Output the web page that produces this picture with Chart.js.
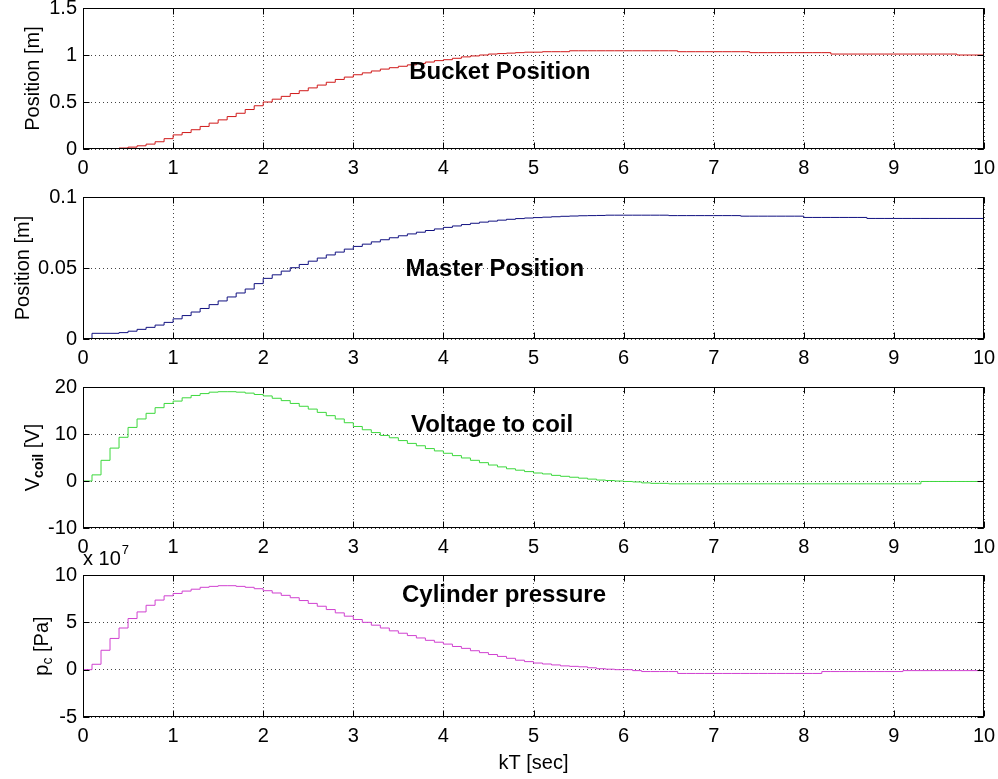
<!DOCTYPE html>
<html>
<head>
<meta charset="utf-8">
<script src="https://cdn.jsdelivr.net/npm/chart.js@4.4.0/dist/chart.umd.min.js"></script>
<style>
  html, body { margin: 0; padding: 0; background: #fff; }
  #wrap { position: relative; width: 998px; height: 779px; overflow: hidden; }
  canvas { position: absolute; left: 0; }
</style>
</head>
<body>
<div id="wrap">
  <canvas id="c1" width="998" height="198" style="top:-8px"></canvas>
  <canvas id="c2" width="998" height="198" style="top:181px"></canvas>
  <canvas id="c3" width="998" height="198" style="top:371px"></canvas>
  <canvas id="c4" width="998" height="244" style="top:535px"></canvas>
</div>
<script>
// sample instants kT, T = 0.1 s
const kT = [0,0.1,0.2,0.3,0.4,0.5,0.6,0.7,0.8,0.9,
  1,1.1,1.2,1.3,1.4,1.5,1.6,1.7,1.8,1.9,
  2,2.1,2.2,2.3,2.4,2.5,2.6,2.7,2.8,2.9,
  3,3.1,3.2,3.3,3.4,3.5,3.6,3.7,3.8,3.9,
  4,4.1,4.2,4.3,4.4,4.5,4.6,4.7,4.8,4.9,
  5,5.1,5.2,5.3,5.4,5.5,5.6,5.7,5.8,5.9,
  6,6.1,6.2,6.3,6.4,6.5,6.6,6.7,6.8,6.9,
  7,7.1,7.2,7.3,7.4,7.5,7.6,7.7,7.8,7.9,
  8,8.1,8.2,8.3,8.4,8.5,8.6,8.7,8.8,8.9,
  9,9.1,9.2,9.3,9.4,9.5,9.6,9.7,9.8,9.9,10];

// bucket position [m]
const bucketPos = [0,0,0,0.004,0.01,0.02,0.034,0.052,0.077,0.11,
  0.15,0.175,0.205,0.24,0.275,0.31,0.345,0.38,0.42,0.46,
  0.5,0.53,0.56,0.59,0.62,0.65,0.68,0.71,0.74,0.765,
  0.79,0.81,0.83,0.85,0.865,0.88,0.895,0.91,0.925,0.94,
  0.95,0.965,0.98,0.99,1.0,1.01,1.015,1.02,1.025,1.03,
  1.03,1.035,1.035,1.035,1.045,1.045,1.045,1.045,1.045,1.045,
  1.045,1.045,1.045,1.045,1.045,1.045,1.035,1.035,1.035,1.035,
  1.035,1.035,1.035,1.035,1.025,1.025,1.025,1.025,1.025,1.025,
  1.025,1.025,1.025,1.01,1.01,1.01,1.01,1.01,1.01,1.01,
  1.01,1.01,1.01,1.01,1.01,1.01,1.01,1.0,1.0,1.0,1.0];

// master position [m]
const masterPos = [0,0.004,0.004,0.004,0.0045,0.0055,0.0068,0.0082,0.0098,0.0117,
  0.0142,0.0165,0.019,0.0215,0.0242,0.0268,0.0296,0.0324,0.0352,0.039,
  0.0427,0.0452,0.0478,0.0502,0.0525,0.0548,0.057,0.0592,0.0612,0.0633,
  0.0652,0.0668,0.0684,0.0699,0.0713,0.0727,0.074,0.0752,0.0764,0.0775,
  0.0786,0.0796,0.0806,0.0815,0.0823,0.083,0.0837,0.0843,0.0848,0.0852,
  0.0855,0.0858,0.0861,0.0864,0.0866,0.0868,0.0869,0.087,0.0872,0.0872,
  0.0872,0.0872,0.0872,0.0872,0.0872,0.0869,0.0869,0.0869,0.0869,0.0869,
  0.0869,0.0869,0.0869,0.0865,0.0865,0.0865,0.0865,0.0865,0.0865,0.0865,
  0.0856,0.0856,0.0856,0.0856,0.0856,0.0856,0.0856,0.0849,0.0849,0.0849,
  0.0849,0.0849,0.0849,0.0849,0.0849,0.0849,0.0849,0.0849,0.0849,0.0849,0.0849];

// voltage to coil [V]
const vCoil = [0,1.3,4.4,7.0,9.3,11.4,13.2,14.4,15.6,16.5,
  17.0,17.7,18.2,18.6,18.9,19.0,19.0,18.9,18.7,18.4,
  18.1,17.6,17.1,16.5,15.9,15.3,14.6,13.9,13.2,12.4,
  11.6,10.9,10.3,9.7,9.2,8.6,8.0,7.5,6.9,6.4,
  5.9,5.4,4.9,4.4,3.9,3.4,3.0,2.6,2.3,2.0,
  1.7,1.5,1.2,1.0,0.8,0.6,0.4,0.2,0.1,0.0,
  -0.1,-0.2,-0.4,-0.5,-0.5,-0.6,-0.6,-0.6,-0.6,-0.6,
  -0.6,-0.6,-0.6,-0.6,-0.6,-0.6,-0.6,-0.6,-0.6,-0.6,
  -0.6,-0.6,-0.6,-0.6,-0.6,-0.6,-0.6,-0.6,-0.6,-0.6,
  -0.6,-0.6,-0.6,-0.1,-0.1,-0.1,-0.1,-0.1,-0.1,-0.1,-0.1];

// cylinder pressure [Pa], in units of 1e7
const pCyl = [0,0.57,2.05,3.3,4.4,5.4,6.1,6.8,7.35,7.8,
  8.05,8.3,8.5,8.7,8.8,8.87,8.87,8.8,8.7,8.55,
  8.34,8.1,7.85,7.6,7.3,7.0,6.7,6.35,6.0,5.65,
  5.3,5.0,4.7,4.4,4.1,3.85,3.6,3.35,3.1,2.9,
  2.7,2.45,2.25,2.0,1.8,1.6,1.4,1.2,1.0,0.85,
  0.7,0.6,0.5,0.4,0.35,0.3,0.2,0.1,0.05,0,
  0,-0.1,-0.2,-0.2,-0.2,-0.2,-0.4,-0.4,-0.4,-0.4,
  -0.4,-0.4,-0.4,-0.4,-0.4,-0.4,-0.4,-0.4,-0.4,-0.4,
  -0.4,-0.4,-0.2,-0.2,-0.2,-0.2,-0.2,-0.2,-0.2,-0.2,
  -0.2,-0.1,-0.1,-0.1,-0.1,-0.1,-0.1,-0.1,-0.1,-0.1,-0.1];

const FONT = '"Liberation Sans", Arial, sans-serif';
const fmt = v => String(Math.round(v * 1000) / 1000);

// draws box, inward ticks, in-plot label, y title and extras
const framePlugin = {
  id: 'frame',
  afterDraw(chart, args, o) {
    const { ctx, chartArea: a, scales: { x, y } } = chart;
    const L = Math.round(a.left) + 0.5, R = Math.round(a.right) - 0.5;
    const T = Math.round(a.top) + 0.5, B = Math.round(a.bottom) - 0.5;
    ctx.save();
    ctx.strokeStyle = '#000';
    ctx.lineWidth = 1;
    ctx.beginPath();
    x.ticks.forEach(t => {
      const px = Math.round(x.getPixelForValue(t.value)) + 0.5;
      ctx.moveTo(px, B); ctx.lineTo(px, B - 6);
      ctx.moveTo(px, T); ctx.lineTo(px, T + 6);
    });
    y.ticks.forEach(t => {
      const py = Math.round(y.getPixelForValue(t.value)) + 0.5;
      ctx.moveTo(L, py); ctx.lineTo(L + 6, py);
      ctx.moveTo(R, py); ctx.lineTo(R - 6, py);
    });
    ctx.stroke();
    ctx.strokeRect(L, T, R - L, B - T);

    // label inside the plot
    ctx.fillStyle = '#000';
    ctx.font = 'bold 24px ' + FONT;
    ctx.textAlign = 'left';
    ctx.textBaseline = 'middle';
    ctx.fillText(o.label, x.getPixelForValue(o.labelAt[0]), y.getPixelForValue(o.labelAt[1]));

    // rotated y-axis title made of runs (for subscripts)
    ctx.save();
    ctx.translate(o.titleX, (a.top + a.bottom) / 2);
    ctx.rotate(-Math.PI / 2);
    ctx.textBaseline = 'middle';
    let w = 0;
    o.yTitle.forEach(r => { ctx.font = r.font + ' ' + FONT; w += ctx.measureText(r.text).width; });
    let cx = -w / 2;
    o.yTitle.forEach(r => {
      ctx.font = r.font + ' ' + FONT;
      ctx.fillText(r.text, cx, r.dy || 0);
      cx += ctx.measureText(r.text).width;
    });
    ctx.restore();

    if (o.exponent) {
      ctx.font = '20px ' + FONT;
      ctx.textBaseline = 'alphabetic';
      ctx.fillText('x 10', a.left, a.top - 10);
      const w2 = ctx.measureText('x 10').width;
      ctx.font = '13px ' + FONT;
      ctx.fillText('7', a.left + w2 + 1, a.top - 21);
    }
    ctx.restore();
  }
};

function makeChart(id, values, color, yMin, yMax, yStep, padTop, xHeight, frame, xTitle) {
  return new Chart(document.getElementById(id), {
    type: 'line',
    data: {
      datasets: [{
        data: kT.map((t, i) => ({ x: t, y: values[i] })),
        borderColor: color,
        borderWidth: 1,
        pointRadius: 0,
        stepped: true,
        tension: 0
      }]
    },
    options: {
      responsive: false,
      animation: false,
      devicePixelRatio: 1,
      layout: { padding: { top: padTop, right: 14, left: 0, bottom: 0 } },
      plugins: { legend: { display: false }, tooltip: { enabled: false }, frame: frame },
      scales: {
        x: {
          type: 'linear', min: 0, max: 10,
          afterFit: s => { s.height = xHeight; s.paddingLeft = 0; s.paddingRight = 0; },
          ticks: { stepSize: 1, autoSkip: false, maxRotation: 0, padding: 7, color: '#000', font: { family: FONT, size: 20 }, callback: fmt },
          grid: { color: '#444', drawTicks: false },
          border: { display: false, dash: [1, 3] },
          title: xTitle ? { display: true, text: 'kT [sec]', color: '#000', font: { family: FONT, size: 20 }, padding: { top: 0 } } : { display: false }
        },
        y: {
          type: 'linear', min: yMin, max: yMax,
          afterFit: s => { s.width = 83; s.paddingTop = 0; s.paddingBottom = 0; },
          ticks: { stepSize: yStep, padding: 6, color: '#000', font: { family: FONT, size: 20 }, callback: fmt },
          grid: { color: '#444', drawTicks: false },
          border: { display: false, dash: [1, 3] }
        }
      }
    },
    plugins: [framePlugin]
  });
}

makeChart('c1', bucketPos, '#d01818', 0, 1.5, 0.5, 16, 41, {
  label: 'Bucket Position', labelAt: [3.62, 0.81], titleX: 33,
  yTitle: [{ text: 'Position [m]', font: '20px' }]
});
makeChart('c2', masterPos, '#101080', 0, 0.1, 0.05, 16, 40, {
  label: 'Master Position', labelAt: [3.58, 0.049], titleX: 23,
  yTitle: [{ text: 'Position [m]', font: '20px' }]
});
makeChart('c3', vCoil, '#3cd83c', -10, 20, 10, 16, 41, {
  label: 'Voltage to coil', labelAt: [3.64, 11.9], titleX: 33,
  yTitle: [{ text: 'V', font: '20px' }, { text: 'coil', font: 'bold 14px', dy: 6 }, { text: ' [V]', font: '20px' }]
});
makeChart('c4', pCyl, '#d040d0', -5, 10, 5, 40, 62, {
  label: 'Cylinder pressure', labelAt: [3.54, 7.8], titleX: 42, exponent: true,
  yTitle: [{ text: 'p', font: '20px' }, { text: 'c', font: '14px', dy: 6 }, { text: ' [Pa]', font: '20px' }]
}, true);
</script>
</body>
</html>
